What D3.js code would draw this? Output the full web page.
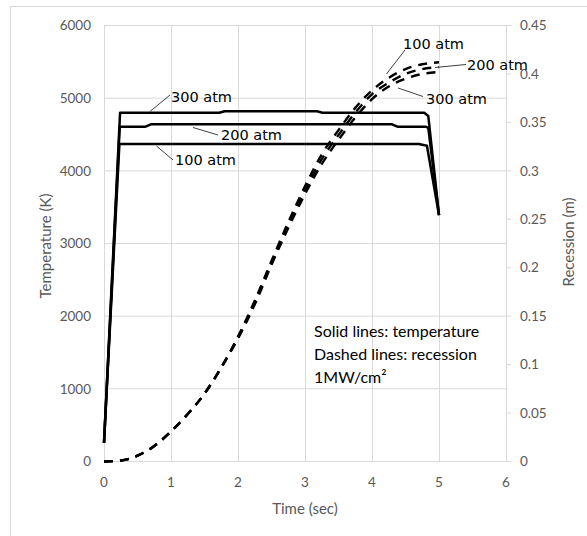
<!DOCTYPE html>
<html>
<head>
<meta charset="utf-8">
<script src="https://cdn.jsdelivr.net/npm/d3@7"></script>
<style>
  html, body { margin: 0; padding: 0; background: #fff; }
  svg { display: block; }
</style>
</head>
<body>
<svg id="chart" width="587" height="536"></svg>
<script>
// ---- data ----
const xTicks = [0, 1, 2, 3, 4, 5, 6];
const tempTicks = [0, 1000, 2000, 3000, 4000, 5000, 6000];
const recTicks = [0, 0.05, 0.1, 0.15, 0.2, 0.25, 0.3, 0.35, 0.4, 0.45];

// temperature (solid lines)
const time300 = [0, 0.24, 1.72, 1.80, 3.18, 3.26, 4.78, 4.84, 5.0];
const temp300 = [255, 4800, 4800, 4820, 4820, 4800, 4800, 4755, 3390];
const time200 = [0, 0.235, 0.62, 0.70, 4.30, 4.38, 4.80, 4.84, 5.0];
const temp200 = [255, 4607, 4607, 4640, 4640, 4607, 4607, 4590, 3390];
const time100 = [0, 0.23, 4.70, 4.82, 5.0];
const temp100 = [255, 4369, 4369, 4345, 3390];

// recession (dashed lines)
const timeRec = [0, 0.25, 0.5, 0.75, 1.0, 1.25, 1.5, 1.75, 2.0, 2.25, 2.5, 2.75, 3.0, 3.25, 3.5, 3.75, 4.0, 4.25, 4.5, 4.75, 5.0];
const rec100 = [0, 0.001, 0.006, 0.016, 0.031, 0.049, 0.070, 0.097, 0.129, 0.166, 0.207, 0.247, 0.284, 0.317, 0.342, 0.365, 0.383, 0.396, 0.405, 0.410, 0.412];
const rec200 = [0, 0.001, 0.006, 0.016, 0.031, 0.049, 0.070, 0.097, 0.128, 0.164, 0.205, 0.244, 0.280, 0.312, 0.337, 0.360, 0.379, 0.391, 0.400, 0.405, 0.407];
const rec300 = [0, 0.001, 0.006, 0.016, 0.031, 0.049, 0.070, 0.097, 0.127, 0.162, 0.203, 0.241, 0.276, 0.307, 0.332, 0.355, 0.374, 0.387, 0.395, 0.400, 0.402];

const noteLines = ["Solid lines: temperature", "Dashed lines: recession", "1MW/cm²"];

// ---- drawing ----
const svg = d3.select("#chart");
const L = 104, R = 506, T = 25.5, B = 461.5;
const x = d3.scaleLinear().domain([0, 6]).range([L, R]);
const yT = d3.scaleLinear().domain([0, 6000]).range([B, T]);
const yR = d3.scaleLinear().domain([0, 0.45]).range([B, T]);

const gray = "#595959";
const gridC = "#d9d9d9";
const tickFont = "Lato, 'Open Sans', sans-serif";

// outer frame
svg.append("rect").attr("x", 10.5).attr("y", 6.5).attr("width", 600).attr("height", 600)
  .attr("fill", "none").attr("stroke", gridC).attr("stroke-width", 1);

// gridlines
const grid = svg.append("g");
grid.selectAll("line.v").data(xTicks).join("line")
  .attr("x1", d => Math.round(x(d)) + 0.5).attr("x2", d => Math.round(x(d)) + 0.5)
  .attr("y1", T).attr("y2", B)
  .attr("stroke", gridC).attr("stroke-width", 1);
grid.selectAll("line.h").data(tempTicks).join("line")
  .attr("x1", L).attr("x2", R)
  .attr("y1", d => yT(d)).attr("y2", d => yT(d))
  .attr("stroke", gridC).attr("stroke-width", 1);

// right axis ticks
svg.append("g").selectAll("line").data(recTicks).join("line")
  .attr("x1", R).attr("x2", R + 5)
  .attr("y1", d => yR(d)).attr("y2", d => yR(d))
  .attr("stroke", gridC).attr("stroke-width", 1);

// tick labels
svg.append("g").selectAll("text").data(tempTicks).join("text")
  .attr("x", 91).attr("y", d => yT(d)).attr("dy", "0.35em")
  .attr("text-anchor", "end").attr("fill", gray)
  .style("font-family", tickFont).style("font-size", "13.5px")
  .text(d => d);
svg.append("g").selectAll("text").data(recTicks).join("text")
  .attr("x", 520).attr("y", d => yR(d)).attr("dy", "0.35em")
  .attr("text-anchor", "start").attr("fill", gray)
  .style("font-family", tickFont).style("font-size", "13.5px")
  .text(d => d);
svg.append("g").selectAll("text").data(xTicks).join("text")
  .attr("x", d => x(d)).attr("y", 482).attr("dy", "0.35em")
  .attr("text-anchor", "middle").attr("fill", gray)
  .style("font-family", tickFont).style("font-size", "13.5px")
  .text(d => d);

// axis titles
svg.append("text").attr("x", (L + R) / 2).attr("y", 509).attr("dy", "0.35em")
  .attr("text-anchor", "middle").attr("fill", gray)
  .style("font-family", tickFont).style("font-size", "15px").text("Time (sec)");
svg.append("text").attr("transform", "translate(46,246) rotate(-90)").attr("dy", "0.35em")
  .attr("text-anchor", "middle").attr("fill", gray)
  .style("font-family", tickFont).style("font-size", "15px").text("Temperature (K)");
svg.append("text").attr("transform", "translate(569,242) rotate(-90)").attr("dy", "0.35em")
  .attr("text-anchor", "middle").attr("fill", gray)
  .style("font-family", tickFont).style("font-size", "15px").text("Recession (m)");

// temperature lines
const lineT = d3.line().x(d => x(d[0])).y(d => yT(d[1]));
[[time300, temp300], [time200, temp200], [time100, temp100]].forEach(([ts, vs]) => {
  svg.append("path").datum(d3.zip(ts, vs)).attr("d", lineT)
    .attr("fill", "none").attr("stroke", "#000").attr("stroke-width", 2.5)
    .attr("stroke-linejoin", "round");
});

// recession lines
const lineR = d3.line().x(d => x(d[0])).y(d => yR(d[1])).curve(d3.curveMonotoneX);
[rec100, rec200, rec300].forEach(vs => {
  svg.append("path").datum(d3.zip(timeRec, vs)).attr("d", lineR)
    .attr("fill", "none").attr("stroke", "#000").attr("stroke-width", 2.4)
    .attr("stroke-dasharray", "9,7");
});

// series labels with leaders
const labelFont = "'DejaVu Sans', Verdana, sans-serif";
const labels = [
  {text: "300 atm", tx: 171, ty: 97, lx1: 150, ly1: 111.5, lx2: 170, ly2: 95},
  {text: "200 atm", tx: 221, ty: 134.5, lx1: 193, ly1: 127.5, lx2: 218, ly2: 135},
  {text: "100 atm", tx: 175, ty: 160, lx1: 156.5, ly1: 146, lx2: 173, ly2: 160},
  {text: "100 atm", tx: 403, ty: 43.5, lx1: 405, ly1: 50, lx2: 386.5, ly2: 74},
  {text: "200 atm", tx: 467, ty: 64.5, lx1: 466, ly1: 64.5, lx2: 435, ly2: 67.5},
  {text: "300 atm", tx: 426, ty: 98.5, lx1: 423, ly1: 96.5, lx2: 398, ly2: 88}
];
labels.forEach(l => {
  svg.append("line").attr("x1", l.lx1).attr("y1", l.ly1).attr("x2", l.lx2).attr("y2", l.ly2)
    .attr("stroke", "#404040").attr("stroke-width", 1);
  svg.append("text").attr("x", l.tx).attr("y", l.ty).attr("dy", "0.35em")
    .attr("fill", "#000").style("font-family", labelFont).style("font-size", "14.5px")
    .text(l.text);
});

// note
svg.append("g").selectAll("text").data(noteLines).join("text")
  .attr("x", 314).attr("y", (d, i) => 331.5 + i * 22.8).attr("dy", "0.35em")
  .attr("fill", "#000").style("font-family", "Lato, sans-serif").style("font-size", "16px")
  .text(d => d);
</script>
</body>
</html>
